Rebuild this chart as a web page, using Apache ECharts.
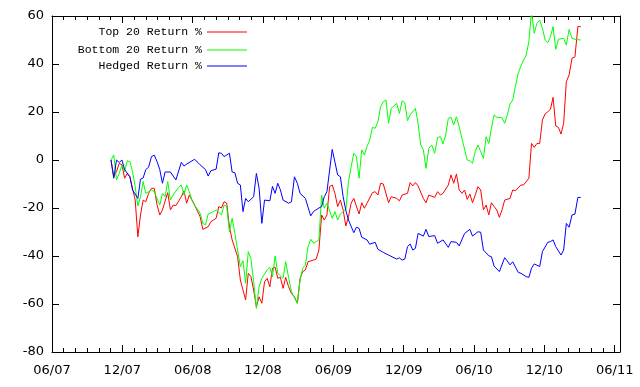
<!DOCTYPE html>
<html>
<head>
<meta charset="utf-8">
<script src="https://cdn.jsdelivr.net/npm/echarts@6/dist/echarts.min.js"></script>
<style>
  html, body { margin: 0; padding: 0; background: #fff; }
  #chart { width: 640px; height: 387px; }
</style>
</head>
<body>
<div id="chart"></div>
<script>
/* Weekly returns, Nov 2007 - Mar 2011. Points are [week, value %]. */
const START = [2007, 10, 2];          // week 0 = 2007-11-02
const X_MAX = 48.45;                  // months after 2007-06-01 at the right border
const Y_TICKS = [-80, -60, -40, -20, 0, 20, 40, 60];
const NAMES = ["Top 20 Return %", "Bottom 20 Return %", "Hedged Return %"];
const COLORS = ["#ff0000", "#00ff00", "#0000ff"];

const top20 = [[0,0],[1,-7],[2,-4.9],[3,-1.4],[4,-2],[5,-7.6],[6,-5.6],[7,-7],[9,-16.7],[10,-32],[11,-22.9],[12,-16.7],[13,-17.4],[14,-13.9],[15,-11.8],[16,-11.8],[17,-18.8],[18,-22.9],[19,-20.8],[21,-13.6],[22,-20.8],[23,-18.8],[24,-19],[26,-15.3],[27,-12.8],[28,-18],[29,-14.6],[31,-18.8],[33,-23.6],[34,-28.9],[36,-27.8],[37,-25.7],[39,-24.3],[40,-19.4],[41,-20],[42,-17.4],[43,-18],[44,-27.8],[45,-33.3],[47,-40.3],[48,-50],[50,-58.3],[51,-47.2],[52,-48.6],[53,-54.2],[54,-61.1],[55,-57],[56,-59.7],[57,-50.7],[58,-49.3],[59,-52.8],[60,-45.1],[61,-44.7],[62,-49.3],[63,-48.9],[64,-53.5],[65,-48.9],[66,-52.8],[67,-55.6],[68,-57],[69,-59.7],[70,-49.3],[71,-46.5],[72,-45.8],[73,-42.4],[75,-41.7],[76,-41.3],[77,-37.5],[78,-22.9],[79,-25],[80,-22.9],[81,-11.1],[82,-10.4],[83,-13.9],[84,-19.4],[85,-16.7],[86,-20.8],[87,-27.5],[88,-23.6],[89,-18],[90,-16],[92,-22.5],[93,-17.8],[94,-20.1],[95,-18],[97,-13.6],[98,-13.2],[99,-14.6],[100,-9.7],[101,-10],[103,-17.8],[104,-15.3],[106,-16],[107,-17],[108,-14.6],[110,-13.9],[111,-9.4],[112,-10.8],[113,-9.4],[114,-10.8],[116,-16],[117,-17.8],[118,-14.6],[120,-15.6],[121,-13.2],[122,-14.6],[123,-13.9],[125,-10.4],[126,-6.2],[127,-9.7],[128,-5.8],[129,-12.5],[130,-13.9],[131,-12.5],[132,-16.4],[133,-14.2],[134,-17.8],[135,-14.6],[136,-11.1],[137,-12.5],[138,-20.8],[139,-18.8],[140,-22.9],[141,-17.8],[142,-19.4],[143,-20.8],[144,-23.9],[145,-20.8],[146,-16.7],[148,-16],[149,-12.5],[150,-12.8],[152,-10.4],[153,-10.4],[155,-7.6],[156,6.9],[157,5.3],[158,6.9],[159,6.9],[160,16.7],[161,19.2],[162,20.1],[163,21.1],[164,26.1],[165,14.2],[166,13.6],[167,10.8],[168,15.3],[169,32.6],[170,35.4],[171,42.4],[172,43],[173,55.6],[174,55.6]];

const bottom20 = [[0,0],[1,2.1],[2,-8.3],[3,-5.6],[4,-2],[5,-4.9],[6,-0.3],[7,-0.7],[8,-4.9],[9,-11.1],[10,-19.2],[11,-15.3],[12,-9],[13,-13.9],[14,-13.2],[15,-12.5],[16,-13.2],[18,-18.8],[19,-13.9],[20,-15.3],[21,-9],[22,-16.7],[23,-14.6],[25,-11.4],[26,-10.4],[27,-14.6],[28,-10.4],[29,-13.2],[30,-16.7],[31,-18.8],[33,-22.2],[34,-26.4],[35,-27],[36,-22.5],[38,-21.5],[39,-20.8],[41,-22.9],[42,-18.8],[43,-19.4],[44,-29.9],[45,-24.3],[46,-30.6],[48,-44.4],[49,-42],[50,-51.4],[51,-38.2],[52,-41],[53,-50.7],[54,-61.8],[55,-52.8],[56,-49.3],[58,-45.8],[59,-44.7],[60,-48.6],[61,-40],[62,-47.2],[64,-49.3],[65,-42.4],[66,-48.9],[67,-54.9],[69,-59.7],[70,-50],[71,-45.1],[72,-43.8],[73,-36.1],[74,-33],[75,-34.7],[76,-34],[77,-33.3],[78,-14.6],[79,-20.1],[80,-18],[82,-24.3],[83,-21.5],[84,-25],[85,-22.5],[86,-21.5],[87,-20.8],[88,-9],[89,-2.8],[90,2.8],[91,1.4],[92,-7.6],[93,4.2],[94,2.1],[95,5.6],[96,8.3],[97,13.6],[98,13.2],[99,16],[100,22.2],[101,24.3],[102,25],[103,15.3],[104,21.5],[105,22.5],[106,23.6],[107,19.4],[108,24.7],[109,23.9],[110,16.4],[111,18.8],[113,21.5],[114,15.3],[115,6.2],[116,4.2],[117,-3.5],[118,4.9],[119,6.2],[120,2.8],[121,9.4],[122,9.7],[123,6.7],[124,10.4],[125,17.4],[126,17.8],[127,14.6],[128,18],[129,13.9],[130,9],[132,0],[133,-0.3],[134,-1.4],[135,3.5],[136,6.2],[137,3.5],[138,0.7],[139,9.7],[140,6.9],[141,13.2],[142,18.8],[143,17.8],[145,17.6],[146,15.3],[147,18.8],[148,23.3],[149,25],[150,30.8],[151,36.1],[152,39.2],[153,41.7],[154,43.8],[155,49.3],[156,62],[157,52.8],[158,57],[159,58.3],[160,54.9],[161,50],[162,48.9],[163,51.4],[164,55.6],[165,46.1],[166,50.3],[168,50.7],[169,47.9],[170,54.4],[171,50.7],[172,50.3],[174,50]];

const hedged = [[0,0],[1,-7.6],[2,0],[3,-1],[4,0],[5,-4],[7,-7],[8,-12.5],[10,-16],[11,-8],[12,-7.5],[13,-4],[14,-3],[15,1.4],[16,2],[17,-0.7],[18,-4],[19,-9.7],[20,-5],[22,-5],[24,-8.3],[26,-1],[27,-2.5],[28,-1.7],[31,0.3],[33,-2],[35,-4],[36,-6.7],[37,-4.5],[39,-3.8],[40,3],[41,2.8],[42,1.4],[44,2.8],[45,-5],[46,-5.3],[47,-9.7],[48,-10.4],[49,-21.5],[50,-16],[51,-17.4],[53,-15.3],[54,-5.6],[55,-11.8],[56,-26.4],[57,-16.7],[59,-17],[60,-11],[61,-13.9],[62,-9.7],[63,-12.5],[64,-16.7],[66,-18],[67,-17.4],[68,-7],[69,-9.7],[70,-13.9],[72,-16],[74,-23.3],[75,-21.5],[77,-20],[78,-19.4],[79,-15.3],[80,-13.2],[82,4.4],[84,-6.2],[85,-7],[86,-15.3],[87,-21],[88,-25],[90,-30.3],[91,-28],[92,-28.5],[93,-32.2],[95,-33.3],[96,-35.1],[98,-34.3],[99,-37.2],[101,-38.5],[103,-39.6],[106,-41.3],[107,-40.8],[108,-41.7],[109,-41.3],[110,-36.1],[111,-35],[112,-37.5],[113,-36.8],[114,-30.6],[116,-31.7],[117,-28.9],[118,-31.9],[120,-31.5],[121,-34.7],[123,-33.3],[125,-36.4],[126,-34],[128,-34.3],[129,-35.8],[131,-30.6],[133,-28.9],[134,-31.7],[136,-29.9],[137,-30.1],[138,-37.5],[140,-39.9],[141,-40.3],[142,-44.2],[144,-46.5],[146,-40.7],[147,-42.1],[148,-43.7],[149,-42.4],[151,-46.8],[152,-47.2],[154,-48.6],[155,-48.9],[156,-45.1],[157,-43.3],[159,-44.4],[160,-38.2],[162,-34.3],[163,-34],[164,-33.3],[165,-36.1],[167,-39.6],[168,-37.5],[169,-26.4],[170,-28],[171,-22.9],[172,-22.5],[173,-15.6],[174,-15.6]];

// week index -> months after 2007-06-01 (the x axis unit)
function weekToMonths(wk) {
  const d = new Date(Date.UTC(START[0], START[1], START[2]) + wk * 7 * 864e5);
  const y = d.getUTCFullYear(), m = d.getUTCMonth(), day = d.getUTCDate();
  const dim = new Date(Date.UTC(y, m + 1, 0)).getUTCDate();
  return (y - 2007) * 12 + (m - 5) + (day - 1) / dim;
}
function monthLabel(v) {
  if (Math.abs(v - Math.round(v)) > 1e-6 || Math.round(v) % 6 !== 0) return "";
  const t = 5 + Math.round(v);
  const mm = (t % 12) + 1, yy = (7 + Math.floor(t / 12)) % 100;
  return (mm < 10 ? "0" : "") + mm + "/" + (yy < 10 ? "0" : "") + yy;
}

const chart = echarts.init(document.getElementById("chart"), null, { renderer: "canvas" });
const ink = "#000";
const tickFont = { color: ink, fontFamily: "DejaVu Sans", fontSize: 13 };

function xAxisOf(pos, interval, tickLen, withLabels) {
  return {
    type: "value", position: pos, min: 0, max: X_MAX, interval: interval,
    axisLine: { show: interval === 1, onZero: false, lineStyle: { color: ink, width: 1 } },
    axisTick: { show: true, inside: true, length: tickLen, lineStyle: { color: ink, width: 1 } },
    axisLabel: withLabels
      ? Object.assign({ show: true, margin: 12, showMaxLabel: false, formatter: monthLabel }, tickFont)
      : { show: false },
    splitLine: { show: false },
  };
}
function yAxisOf(pos, withLabels) {
  return {
    type: "value", position: pos, min: Y_TICKS[0], max: Y_TICKS[Y_TICKS.length - 1], interval: 20,
    axisLine: { show: true, onZero: false, lineStyle: { color: ink, width: 1 } },
    axisTick: { show: true, inside: true, length: 7, lineStyle: { color: ink, width: 1 } },
    axisLabel: withLabels ? Object.assign({ show: true, margin: 8 }, tickFont) : { show: false },
    splitLine: { show: false },
  };
}

const seriesData = [top20, bottom20, hedged];
const legendTops = [26, 44, 60];

chart.setOption({
  animation: false,
  backgroundColor: "#fff",
  grid: { left: 52, right: 20, top: 16, bottom: 35 },
  legend: NAMES.map(function (name, i) {
    return {
      data: [name], right: 393, top: legendTops[i], orient: "horizontal",
      align: "right", padding: 0, itemWidth: 40, itemHeight: 14, selectedMode: false,
      icon: "path://M0,0h40v1h-40z", itemStyle: { color: COLORS[i] },
      textStyle: { color: ink, fontFamily: "Liberation Mono", fontSize: 11.5 },
    };
  }),
  xAxis: [
    xAxisOf("bottom", 1, 4, false),
    xAxisOf("bottom", 6, 7, true),
    xAxisOf("top", 1, 4, false),
    xAxisOf("top", 6, 7, false),
  ],
  yAxis: [yAxisOf("left", true), yAxisOf("right", false)],
  series: seriesData.map(function (pts, i) {
    return {
      name: NAMES[i], type: "line", xAxisIndex: 0, yAxisIndex: 0,
      data: pts.map(function (p) { return [weekToMonths(p[0]), p[1]]; }),
      symbol: "none", showSymbol: false, smooth: false,
      color: COLORS[i],
      lineStyle: { color: COLORS[i], width: 1 },
      z: 2 + i,
    };
  }),
});
</script>
</body>
</html>
